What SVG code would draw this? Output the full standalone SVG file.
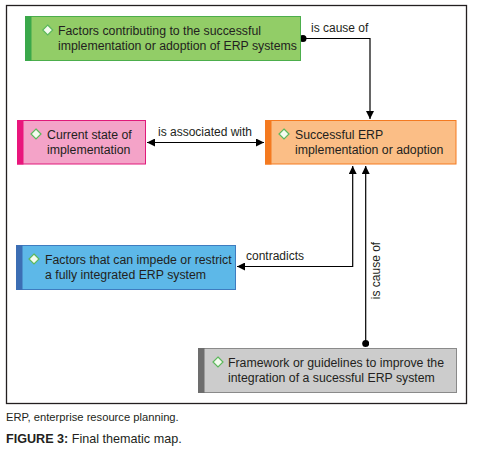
<svg xmlns="http://www.w3.org/2000/svg" width="483" height="457" viewBox="0 0 483 457">
<defs>
<style>
.t{font-family:"Liberation Sans",Arial,sans-serif;font-size:12.3px;fill:#231f20}
.lbl{font-family:"Liberation Sans",Arial,sans-serif;font-size:12px;fill:#231f20}
.cap{font-family:"Liberation Sans",Arial,sans-serif;font-size:11.2px;fill:#231f20}
.fig{font-family:"Liberation Sans",Arial,sans-serif;font-size:12.6px;fill:#231f20}
.dia{fill:#f4fbef;stroke:#5cb85c;stroke-width:1.2}
.ln{fill:none;stroke:#000;stroke-width:1.2}
</style>
<marker id="ah" viewBox="0 0 10 10" refX="10" refY="5" markerWidth="8" markerHeight="8" orient="auto-start-reverse" markerUnits="userSpaceOnUse">
<path d="M0,0 L10,5 L0,10 z" fill="#000"/>
</marker>
<marker id="dot" viewBox="0 0 10 10" refX="5" refY="5" markerWidth="7" markerHeight="7" markerUnits="userSpaceOnUse">
<circle cx="5" cy="5" r="5" fill="#000"/>
</marker>
</defs>
<rect x="0" y="0" width="483" height="457" fill="#fff"/>
<rect x="6.5" y="5.5" width="460" height="398" fill="none" stroke="#231f20" stroke-width="1.3"/>

<g id="connectors">
<path class="ln" d="M303,38.5 H370 V119" marker-start="url(#dot)" marker-end="url(#ah)"/>
<text class="lbl" x="311" y="32">is cause of</text>
<path class="ln" d="M147,142.5 H264" marker-start="url(#ah)" marker-end="url(#ah)"/>
<text class="lbl" x="205" y="136" text-anchor="middle">is associated with</text>
<path class="ln" d="M352.7,166 V266.5 H237" marker-start="url(#ah)" marker-end="url(#ah)"/>
<text class="lbl" x="246" y="260">contradicts</text>
<path class="ln" d="M365.7,343.5 V166" marker-start="url(#dot)" marker-end="url(#ah)"/>
<text class="lbl" transform="translate(379.5,270.5) rotate(-90)" text-anchor="middle">is cause of</text>
</g>

<g id="node-factors-contributing">
<rect x="25.5" y="16.5" width="275" height="44" fill="#92cd67" stroke="#4cae4c" stroke-width="1"/>
<rect x="25" y="16" width="6.5" height="45" fill="#3aa84a"/>
<path class="dia" d="M47.7,25 l5,5 l-5,5 l-5,-5 z"/>
<text class="t" x="58" y="34.5">Factors contributing to the successful</text>
<text class="t" x="58" y="50">implementation or adoption of ERP systems</text>
</g>

<g id="node-current-state">
<rect x="17.5" y="120.5" width="128" height="43.5" fill="#f4a3c8" stroke="#e0197a" stroke-width="1"/>
<rect x="17" y="120" width="6.5" height="44.5" fill="#e9167c"/>
<path class="dia" d="M36,129 l5,5 l-5,5 l-5,-5 z"/>
<text class="t" x="47" y="138.5">Current state of</text>
<text class="t" x="47" y="154">implementation</text>
</g>

<g id="node-successful-erp">
<rect x="265.5" y="120.5" width="190.5" height="43.5" fill="#fbbe86" stroke="#f47a20" stroke-width="1"/>
<rect x="265" y="120" width="6.5" height="44.5" fill="#f47a20"/>
<path class="dia" d="M284,129 l5,5 l-5,5 l-5,-5 z"/>
<text class="t" x="295" y="138.5">Successful ERP</text>
<text class="t" x="295" y="154">implementation or adoption</text>
</g>

<g id="node-factors-impede">
<rect x="16.5" y="245.5" width="219" height="44" fill="#5db8e8" stroke="#3e7cc0" stroke-width="1"/>
<rect x="16" y="245" width="6.5" height="45" fill="#3c6eb4"/>
<path class="dia" d="M34,254 l5,5 l-5,5 l-5,-5 z"/>
<text class="t" x="45" y="263.5">Factors that can impede or restrict</text>
<text class="t" x="45" y="279">a fully integrated ERP system</text>
</g>

<g id="node-framework">
<rect x="198.5" y="348.5" width="258" height="44" fill="#cccccc" stroke="#8a8a8a" stroke-width="1"/>
<rect x="198" y="348" width="6.5" height="45" fill="#6d6d6d"/>
<path class="dia" d="M218,357 l5,5 l-5,5 l-5,-5 z"/>
<text class="t" x="228" y="366.5">Framework or guidelines to improve the</text>
<text class="t" x="228" y="382">integration of a sucessful ERP system</text>
</g>

<text class="cap" x="6" y="421">ERP, enterprise resource planning.</text>
<text class="fig" x="6" y="442.5"><tspan font-weight="bold">FIGURE 3:</tspan> Final thematic map.</text>
</svg>
